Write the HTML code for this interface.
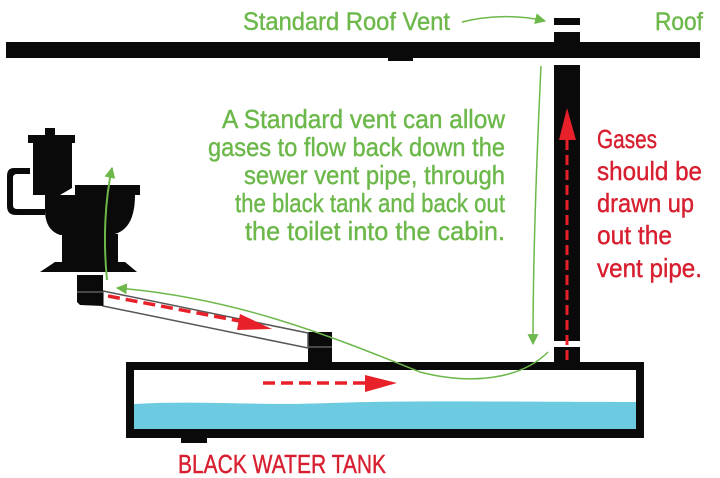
<!DOCTYPE html>
<html><head><meta charset="utf-8"><style>
html,body{margin:0;padding:0;background:#fff;}
svg{display:block;}
text{font-family:"Liberation Sans Narrow","Liberation Sans",sans-serif;}
</style></head><body>
<svg width="720" height="478" viewBox="0 0 720 478" xmlns="http://www.w3.org/2000/svg">
<defs>
<marker id="g" viewBox="0 0 10 10" refX="9" refY="5" markerWidth="11" markerHeight="11" orient="auto" markerUnits="userSpaceOnUse"><path d="M0,0 L10,5 L0,10 z" fill="#6cb84a"/></marker>
</defs>
<rect x="6" y="42" width="694" height="16" fill="#0a0a0a"/>
<rect x="388" y="57" width="25" height="4" fill="#0a0a0a"/>
<rect x="554" y="18" width="26" height="7" fill="#0a0a0a"/>
<rect x="554" y="32" width="26" height="12" fill="#0a0a0a"/>
<rect x="554" y="65" width="26" height="276" fill="#0a0a0a"/>
<rect x="554" y="347" width="26" height="16" fill="#0a0a0a"/>
<rect x="126" y="362" width="518" height="76" fill="#0a0a0a"/>
<rect x="134" y="370" width="502" height="59" fill="#fff"/>
<path d="M134,404 C200,400 260,406 330,403 C420,400 500,402 636,402 L636,429 L134,429 z" fill="#6ccbe0"/>
<rect x="181" y="437" width="26" height="6" fill="#0a0a0a"/>
<rect x="308" y="332" width="24" height="31" fill="#0a0a0a"/>
<line x1="308" y1="347" x2="332" y2="347" stroke="#888" stroke-width="1"/>
<path d="M103,291 L308,333 L308,348 L103,306 z" fill="#fff" stroke="#555" stroke-width="1.5"/>
<path d="M77,275 L103,275 L103,306 L80,305 L77,302 z" fill="#0a0a0a"/>
<line x1="77" y1="292" x2="103" y2="292" stroke="#888" stroke-width="1"/>
<g fill="#0a0a0a">
<rect x="45" y="128" width="10" height="8"/>
<rect x="28" y="135" width="47" height="8"/>
<path d="M33,143 L72,143 L72,188 L60,195 L33,195 z"/>
<path d="M30,168 L14,168 Q7,168 7,176 L7,206 Q7,215 16,215 L45,215 L45,209 L17,209 Q13,209 13,205 L13,178 Q13,174 17,174 L30,174 z"/>
<rect x="75" y="185" width="65" height="10"/>
<path d="M45,195 L135,195 Q135,232 110,235 L60,235 Q45,230 45,210 z"/>
<rect x="62" y="234" width="56" height="28"/>
<path d="M55,262 L125,262 L137,272 L40,272 z"/>
</g>
<line x1="108" y1="296" x2="245" y2="322" stroke="#e8202a" stroke-width="3.5" stroke-dasharray="12,6"/>
<path d="M240,314 L272,329 L237,330 z" fill="#e8202a"/>
<line x1="263" y1="383" x2="365" y2="383" stroke="#e8202a" stroke-width="3.5" stroke-dasharray="12,6"/>
<path d="M365,375 L397,383 L365,392 z" fill="#e8202a"/>
<line x1="567" y1="360" x2="567" y2="138" stroke="#e8202a" stroke-width="3" stroke-dasharray="10,5"/>
<path d="M559,140 L567,108 L576,140 z" fill="#e8202a"/>
<path d="M107,280 C103,240 105,200 112,168" fill="none" stroke="#6cb84a" stroke-width="2" marker-end="url(#g)"/>
<path d="M548,352 C520,380 470,385 420,372 C340,340 240,298 117,288" fill="none" stroke="#6cb84a" stroke-width="1.5" marker-end="url(#g)"/>
<path d="M541,66 C537,150 533,250 533,344" fill="none" stroke="#6cb84a" stroke-width="1.5" marker-end="url(#g)"/>
<path d="M462,22 C490,15 520,15 545,21" fill="none" stroke="#6cb84a" stroke-width="1.5" marker-end="url(#g)"/>
<g fill="#6cb84a" stroke="#6cb84a" stroke-width="0.4" font-size="25">
<text x="243" y="30" textLength="207" lengthAdjust="spacingAndGlyphs">Standard Roof Vent</text>
<text x="655" y="30" textLength="48" lengthAdjust="spacingAndGlyphs">Roof</text>
</g>
<g fill="#6cb84a" stroke="#6cb84a" stroke-width="0.4" font-size="26" text-anchor="end">
<text x="505" y="128" textLength="283" lengthAdjust="spacingAndGlyphs">A Standard vent can allow</text>
<text x="505" y="156" textLength="297" lengthAdjust="spacingAndGlyphs">gases to flow back down the</text>
<text x="505" y="184" textLength="261" lengthAdjust="spacingAndGlyphs">sewer vent pipe, through</text>
<text x="505" y="212" textLength="270" lengthAdjust="spacingAndGlyphs">the black tank and back out</text>
<text x="505" y="240" textLength="260" lengthAdjust="spacingAndGlyphs">the toilet into the cabin.</text>
</g>
<g fill="#d71f30" stroke="#d71f30" stroke-width="0.4" font-size="26">
<text x="597" y="148" textLength="60" lengthAdjust="spacingAndGlyphs">Gases</text>
<text x="597" y="180" textLength="105" lengthAdjust="spacingAndGlyphs">should be</text>
<text x="597" y="212" textLength="97" lengthAdjust="spacingAndGlyphs">drawn up</text>
<text x="597" y="244" textLength="75" lengthAdjust="spacingAndGlyphs">out the</text>
<text x="597" y="277" textLength="105" lengthAdjust="spacingAndGlyphs">vent pipe.</text>
<text x="178" y="473" textLength="208" lengthAdjust="spacingAndGlyphs">BLACK WATER TANK</text>
</g>
</svg>
</body></html>
